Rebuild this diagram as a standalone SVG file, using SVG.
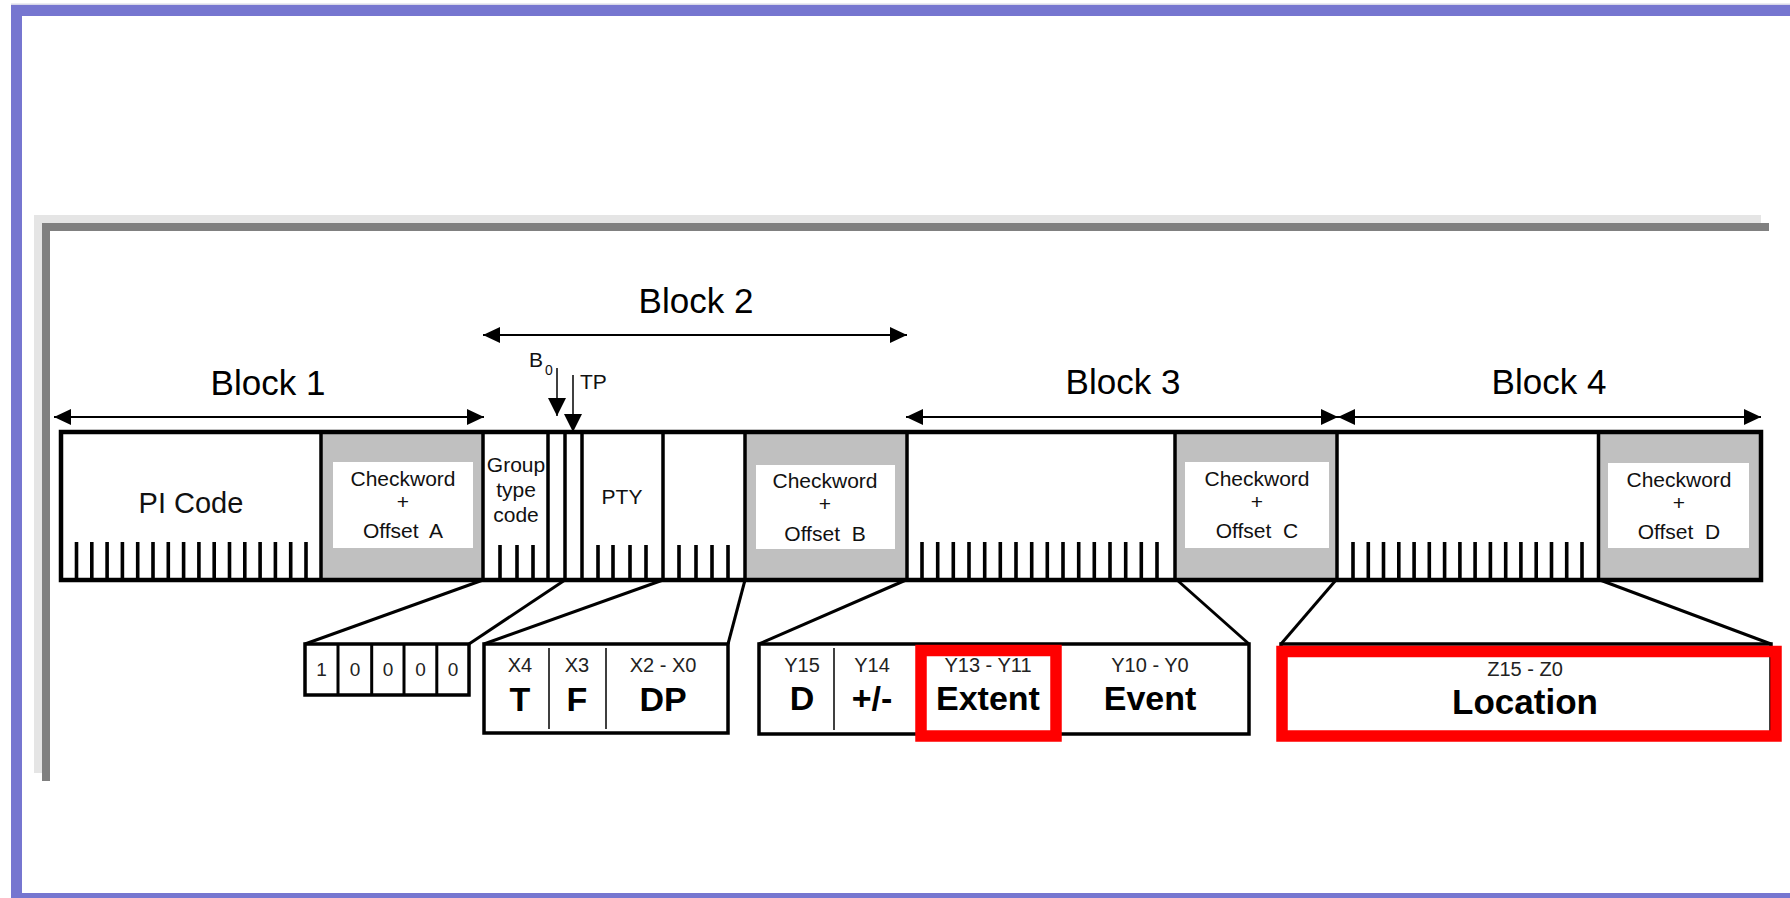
<svg xmlns="http://www.w3.org/2000/svg" width="1790" height="898" viewBox="0 0 1790 898">
<defs>
<style>
text{font-family:"Liberation Sans",Arial,sans-serif;fill:#000}
.blk{font-size:35px;text-anchor:middle}
.cw{font-size:21px;text-anchor:middle;white-space:pre;fill:#111}
.lbl{font-size:21px;text-anchor:middle;fill:#111}
.sm{font-size:20px;text-anchor:middle;fill:#222}
.bd{font-size:34px;font-weight:bold;text-anchor:middle}
.dg{font-size:19px;text-anchor:middle;fill:#222}
.bar{fill:none;stroke:#000;stroke-width:4.5}
.div{stroke:#000;stroke-width:3.5}
.tick{stroke:#000;stroke-width:3.6;fill:none}
.gray{fill:#c0c0c0}
.win{fill:#fff}
.box{fill:#fff;stroke:#000;stroke-width:3.5}
.thin{stroke:#000;stroke-width:1.5}
.red{fill:none;stroke:#ff0000;stroke-width:11.5}
.span{stroke:#000;stroke-width:2;fill:none}
.ptr{stroke:#000;stroke-width:1.5;fill:none}
.conn{stroke:#000;stroke-width:3;fill:none}
</style>
<marker id="ah" viewBox="0 0 17 16" refX="17" refY="8" markerWidth="17" markerHeight="16" markerUnits="userSpaceOnUse" orient="auto-start-reverse"><path d="M0,0L17,8L0,16z" fill="#000"/></marker>
<marker id="as" viewBox="0 0 18 18" refX="18" refY="9" markerWidth="18" markerHeight="18" markerUnits="userSpaceOnUse" orient="auto"><path d="M0,0L18,9L0,18z" fill="#000"/></marker>
</defs>

<g id="background">
<rect x="0" y="0" width="1790" height="898" fill="#fff"/>
<rect x="34" y="215" width="1727" height="558" fill="#e5e5e5"/>
<rect x="42" y="223" width="1727" height="558" fill="#808080"/>
<rect x="50" y="231" width="1740" height="662" fill="#fff"/>
<rect x="11" y="3.5" width="1779" height="1.5" fill="#d8d8e8"/>
<rect x="11" y="5" width="1779" height="11" fill="#7676d0"/>
<rect x="11" y="5" width="11" height="893" fill="#7676d0"/>
<rect x="11" y="893" width="1779" height="5" fill="#7676d0"/>
</g>

<g id="block-labels">
<text class="blk" x="268" y="395">Block 1</text>
<text class="blk" x="696" y="313">Block 2</text>
<text class="blk" x="1123" y="394">Block 3</text>
<text class="blk" x="1549" y="394">Block 4</text>
</g>

<g id="span-arrows">
<line class="span" x1="54" y1="417" x2="484" y2="417" marker-start="url(#ah)" marker-end="url(#ah)"/>
<line class="span" x1="483" y1="335" x2="907" y2="335" marker-start="url(#ah)" marker-end="url(#ah)"/>
<line class="span" x1="906" y1="417" x2="1338" y2="417" marker-start="url(#ah)" marker-end="url(#ah)"/>
<line class="span" x1="1338" y1="417" x2="1761" y2="417" marker-start="url(#ah)" marker-end="url(#ah)"/>
</g>

<g id="bit-pointers">
<text x="529" y="367" style="font-size:21px;fill:#111">B</text>
<text x="545" y="375" style="font-size:14px;fill:#111">0</text>
<line class="ptr" x1="557" y1="368" x2="557" y2="416" marker-end="url(#as)"/>
<line class="ptr" x1="573" y1="375" x2="573" y2="432" marker-end="url(#as)"/>
<text x="580" y="389" style="font-size:21px;fill:#111">TP</text>
</g>

<g id="checkword-a">
<rect class="gray" x="321" y="432" width="162" height="148"/>
<rect class="win" x="333" y="462" width="140" height="86"/>
<text class="cw" x="403" y="486">Checkword</text>
<text class="cw" x="403" y="509">+</text>
<text class="cw" x="403" y="538">Offset  A</text>
</g>
<g id="checkword-b">
<rect class="gray" x="745" y="432" width="162" height="148"/>
<rect class="win" x="756" y="465" width="139" height="84"/>
<text class="cw" x="825" y="488">Checkword</text>
<text class="cw" x="825" y="511">+</text>
<text class="cw" x="825" y="541">Offset  B</text>
</g>
<g id="checkword-c">
<rect class="gray" x="1175" y="432" width="162" height="148"/>
<rect class="win" x="1185" y="462" width="144" height="86"/>
<text class="cw" x="1257" y="486">Checkword</text>
<text class="cw" x="1257" y="509">+</text>
<text class="cw" x="1257" y="538">Offset  C</text>
</g>
<g id="checkword-d">
<rect class="gray" x="1598.5" y="432" width="162.5" height="148"/>
<rect class="win" x="1608" y="463" width="141" height="85"/>
<text class="cw" x="1679" y="487">Checkword</text>
<text class="cw" x="1679" y="510">+</text>
<text class="cw" x="1679" y="539">Offset  D</text>
</g>

<g id="pi-code">
<text x="191" y="513" style="font-size:29px;text-anchor:middle;fill:#111">PI Code</text>
<path class="tick" d="M76.5,542V580M91.8,542V580M107.1,542V580M122.4,542V580M137.7,542V580M153,542V580M168.3,542V580M183.6,542V580M198.9,542V580M214.2,542V580M229.5,542V580M244.8,542V580M260.1,542V580M275.4,542V580M290.7,542V580M306,542V580"/>
</g>
<g id="group-type-code">
<text class="lbl" x="516" y="472">Group</text>
<text class="lbl" x="516" y="497">type</text>
<text class="lbl" x="516" y="522">code</text>
<path class="tick" d="M500,545V580M517,545V580M533,545V580"/>
</g>
<g id="pty">
<text class="lbl" x="622" y="504">PTY</text>
<path class="tick" d="M598,545V580M613,545V580M630,545V580M646,545V580"/>
</g>
<g id="block2-rest">
<path class="tick" d="M679,545V580M696,545V580M712,545V580M728,545V580"/>
</g>
<g id="block3-data">
<path class="tick" d="M922,542V580M937.7,542V580M953.3,542V580M969,542V580M984.7,542V580M1000.3,542V580M1016,542V580M1031.7,542V580M1047.3,542V580M1063,542V580M1078.7,542V580M1094.3,542V580M1110,542V580M1125.7,542V580M1141.3,542V580M1157,542V580"/>
</g>
<g id="block4-data">
<path class="tick" d="M1353,542V580M1368.3,542V580M1383.5,542V580M1398.8,542V580M1414.1,542V580M1429.3,542V580M1444.6,542V580M1459.9,542V580M1475.1,542V580M1490.4,542V580M1505.7,542V580M1520.9,542V580M1536.2,542V580M1551.5,542V580M1566.7,542V580M1582,542V580"/>
</g>
<g id="bar-outline">
<rect class="bar" x="61" y="432" width="1700" height="148"/>
<path class="div" d="M321,432V580M483,432V580M548,432V580M565,432V580M582,432V580M663,432V580M745,432V580M907,432V580M1175,432V580M1337,432V580M1598.5,432V580"/>
</g>

<g id="connectors">
<line class="conn" x1="483" y1="580" x2="305" y2="644"/>
<line class="conn" x1="565" y1="580" x2="469" y2="644"/>
<line class="conn" x1="663" y1="580" x2="484" y2="644"/>
<line class="conn" x1="745" y1="580" x2="728" y2="644"/>
<line class="conn" x1="906" y1="580" x2="759" y2="644"/>
<line class="conn" x1="1177" y1="580" x2="1249" y2="644"/>
<line class="conn" x1="1336" y1="580" x2="1281" y2="644"/>
<line class="conn" x1="1600" y1="580" x2="1771" y2="644"/>
</g>

<g id="group-type-bits">
<rect class="box" x="305" y="644" width="164" height="51"/>
<path class="div" style="stroke-width:3" d="M338,644V695M371.7,644V695M404,644V695M436.8,644V695"/>
<text class="dg" x="321.5" y="676">1</text>
<text class="dg" x="355" y="676">0</text>
<text class="dg" x="388" y="676">0</text>
<text class="dg" x="420.5" y="676">0</text>
<text class="dg" x="453" y="676">0</text>
</g>

<g id="x-fields">
<rect class="box" x="484" y="644" width="244" height="89"/>
<path class="thin" d="M549,648V729M606,648V729"/>
<text class="sm" x="520" y="672">X4</text>
<text class="sm" x="577" y="672">X3</text>
<text class="sm" x="663" y="672">X2 - X0</text>
<text class="bd" x="520" y="711">T</text>
<text class="bd" x="577" y="711">F</text>
<text class="bd" x="663" y="711">DP</text>
</g>

<g id="y-fields">
<rect class="box" x="759" y="644" width="490" height="90"/>
<path class="thin" d="M834,648V730"/>
<text class="sm" x="802" y="672">Y15</text>
<text class="sm" x="872" y="672">Y14</text>
<text class="sm" x="988" y="672">Y13 - Y11</text>
<text class="sm" x="1150" y="672">Y10 - Y0</text>
<text class="bd" x="802" y="710">D</text>
<text class="bd" x="872" y="710">+/-</text>
<text class="bd" x="988" y="710">Extent</text>
<text class="bd" x="1150" y="710">Event</text>
<rect class="red" x="921" y="650.5" width="135" height="85.5"/>
</g>

<g id="z-fields">
<rect class="box" x="1281" y="644" width="490" height="90"/>
<text class="sm" x="1525" y="676">Z15 - Z0</text>
<text class="bd" x="1525" y="714" style="font-size:35px">Location</text>
<rect class="red" x="1282" y="651.5" width="494" height="84.5"/>
</g>
</svg>
